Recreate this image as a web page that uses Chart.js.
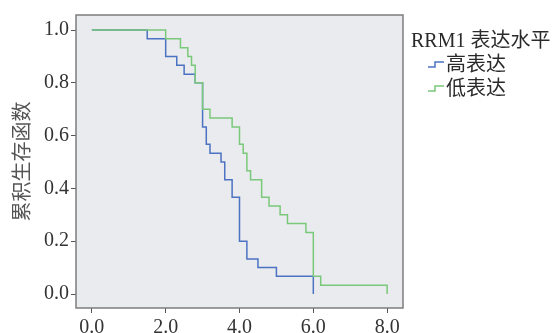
<!DOCTYPE html>
<html>
<head>
<meta charset="utf-8">
<script src="https://cdn.jsdelivr.net/npm/chart.js@4"></script>
<style>
  html, body { margin: 0; padding: 0; background: #fff; }
  #wrap { position: relative; width: 560px; height: 333px; overflow: hidden; }
  #legend { position: absolute; left: 411px; top: 28px; color: #2a2a2a;
    font-family: 'Liberation Serif', 'Noto Sans CJK SC', serif; font-size: 20px; line-height: 24px; }
  #legend .row { display: flex; align-items: center; padding-left: 17px; }
  #legend svg { margin-right: 1px; }
</style>
</head>
<body>
<div id="wrap">
  <canvas id="km" width="560" height="333"></canvas>
  <div id="legend"></div>
</div>
<script>
/* Kaplan-Meier curves, RRM1 expression groups */
const xTicks = [0, 2, 4, 6, 8];
const yTicks = [0, 0.2, 0.4, 0.6, 0.8, 1.0];

// high expression group (blue)
const highTimes = [0, 1.5, 2.0, 2.3, 2.5, 2.8, 3.0, 3.1, 3.2, 3.5, 3.6, 3.8, 4.0, 4.2, 4.5, 5.0, 6.0];
const highSurv  = [1, 0.967, 0.9, 0.867, 0.833, 0.8, 0.633, 0.567, 0.533, 0.5, 0.433, 0.367, 0.2, 0.133, 0.1, 0.067, 0];

// low expression group (green)
const lowTimes = [0, 2.0, 2.4, 2.6, 2.7, 2.8, 3.0, 3.2, 3.8, 4.0, 4.1, 4.2, 4.3, 4.6, 4.8, 5.1, 5.3, 5.8, 6.0, 6.2, 8.0];
const lowSurv  = [1, 0.967, 0.933, 0.9, 0.867, 0.8, 0.7, 0.667, 0.633, 0.567, 0.533, 0.467, 0.433, 0.367, 0.333, 0.3, 0.267, 0.233, 0.067, 0.033, 0];

const groups = [
  { label: '高表达', times: highTimes, surv: highSurv, color: '#4c72c2', order: 1 },
  { label: '低表达', times: lowTimes,  surv: lowSurv,  color: '#7ac97a', order: 0 }
];

const frame = {
  id: 'frame',
  beforeDraw(chart) {
    const a = chart.chartArea, ctx = chart.ctx;
    ctx.save();
    ctx.fillStyle = '#e9ebee';
    ctx.fillRect(a.left, a.top, a.right - a.left, a.bottom - a.top);
    ctx.restore();
  },
  afterDraw(chart) {
    const a = chart.chartArea, ctx = chart.ctx;
    ctx.save();
    ctx.strokeStyle = '#7d7d7d';
    ctx.lineWidth = 1.5;
    ctx.strokeRect(a.left, a.top, a.right - a.left, a.bottom - a.top);
    ctx.restore();
  }
};

const tickFont = { family: "'Liberation Serif', serif", size: 20 };

new Chart(document.getElementById('km').getContext('2d'), {
  type: 'line',
  data: {
    datasets: groups.map(g => ({
      label: g.label,
      data: g.times.map((t, i) => ({ x: t, y: g.surv[i] })),
      borderColor: g.color, borderWidth: 1.5,
      stepped: true, pointRadius: 0, fill: false, order: g.order
    }))
  },
  options: {
    responsive: false, animation: false,
    layout: { padding: { top: 15, right: 157, left: 0, bottom: 0 } },
    plugins: { legend: { display: false }, tooltip: { enabled: false } },
    scales: {
      x: {
        type: 'linear', min: -0.43, max: 8.43,
        afterBuildTicks: s => { s.ticks = xTicks.map(v => ({ value: v })); },
        afterFit: s => { s.height = 25; },
        ticks: { color: '#333', font: tickFont, padding: 3, maxRotation: 0,
                 callback: v => v.toFixed(1) },
        grid: { drawOnChartArea: false, drawTicks: true, tickLength: 5, color: '#555' },
        border: { display: false }
      },
      y: {
        type: 'linear', min: -0.053, max: 1.057,
        afterBuildTicks: s => { s.ticks = yTicks.map(v => ({ value: v })); },
        afterFit: s => { s.width = 76; },
        ticks: { color: '#333', font: tickFont, padding: 2,
                 callback: v => v.toFixed(1) },
        grid: { drawOnChartArea: false, drawTicks: true, tickLength: 5, color: '#555' },
        border: { display: false },
        title: { display: true, text: '累积生存函数', color: '#555',
                 font: { family: "'Noto Sans CJK SC', sans-serif", size: 20 },
                 padding: { top: 9, bottom: 0 } }
      }
    }
  },
  plugins: [frame]
});

// legend with step icons
const leg = document.getElementById('legend');
leg.innerHTML = '<div>RRM1 表达水平</div>' + groups.map(g =>
  `<div class="row"><svg width="17" height="10"><polyline points="0,8 7,8 7,3 16,3" fill="none" stroke="${g.color}" stroke-width="1.5"/></svg>${g.label}</div>`
).join('');
</script>
</body>
</html>
